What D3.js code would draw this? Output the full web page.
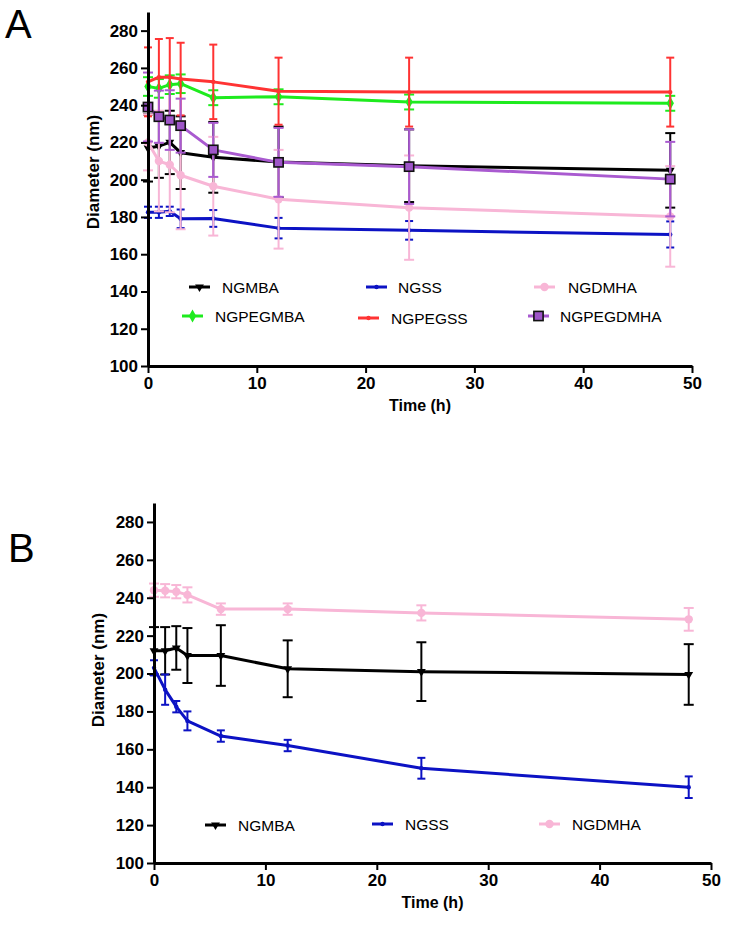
<!DOCTYPE html>
<html><head><meta charset="utf-8">
<script src="https://cdn.jsdelivr.net/npm/d3@7"></script>
<style>
body{margin:0;background:#fff}
svg{display:block}
text{font-family:"Liberation Sans",Arial,Helvetica,sans-serif;fill:#000}
</style>
</head><body>
<svg id="chart" width="729" height="925"></svg>
<script>
// ---------------- data ----------------
const times = [0, 1, 2, 3, 6, 12, 24, 48];
const xTicks = [0, 10, 20, 30, 40, 50];
const yTicks = [100, 120, 140, 160, 180, 200, 220, 240, 260, 280];

// Panel A (mean, SD)
const aNGMBA        = [217, 218, 220, 214.5, 212, 209.5, 207.5, 205];
const aNGMBAErr     = [18, 17, 17, 19.5, 19, 19, 19.5, 20];
const aNGSS         = [182.5, 182.5, 183, 179, 179.2, 174, 172.8, 170.6];
const aNGSSErr      = [3, 3, 2.5, 5, 4.5, 5.5, 5, 7];
const aNGDMHA       = [220, 210, 208, 202.4, 196.5, 189.5, 185, 180.3];
const aNGDMHAErr    = [15, 27, 25.5, 29, 26.5, 26.5, 28, 27];
const aNGPEGMBA     = [250, 249, 251, 251.5, 244, 244.5, 241.7, 241];
const aNGPEGMBAErr  = [5, 5, 5, 5, 4, 4, 4, 4];
const aNGPEGSS      = [252.5, 255, 255, 254, 252.5, 247.5, 247, 247];
const aNGPEGSSErr   = [18.5, 20.5, 21, 19.5, 20, 18, 18.5, 18.5];
const aNGPEGDMHA    = [239, 233.8, 232, 229, 216, 209.3, 207, 200.3];
const aNGPEGDMHAErr = [18.5, 14, 16, 14.5, 14.5, 18.5, 20, 20];

// Panel B (mean, SD)
const bNGMBA     = [212, 212, 213.5, 209.5, 209.5, 202.5, 201, 199.5];
const bNGMBAErr  = [12.5, 12.5, 11.5, 14.5, 16, 15, 15.5, 16];
const bNGSS      = [203, 191.5, 182.5, 175, 167, 162, 150, 140];
const bNGSSErr   = [4, 8, 3, 5, 3, 3, 5.5, 5.7];
const bNGDMHA    = [244, 243.7, 243.2, 241.5, 234, 234, 232, 228.6];
const bNGDMHAErr = [3.5, 3.5, 3.5, 4, 3, 3, 4, 6];

// ---------------- styles ----------------
const styles = {
  NGMBA:     {color: "#000000", marker: "triDown", cap: 5},
  NGSS:      {color: "#0c12c4", marker: "dot",     cap: 4},
  NGDMHA:    {color: "#f8b6d6", marker: "circle",  cap: 5},
  NGPEGMBA:  {color: "#1eeb1e", marker: "diamond", cap: 5},
  NGPEGSS:   {color: "#ff3333", marker: "dot",     cap: 4},
  NGPEGDMHA: {color: "#a95ad0", marker: "square",  cap: 5}
};

const svg = d3.select("#chart");

function drawMarker(g, type, color, cx, cy) {
  if (type === "triDown") {
    g.append("path").attr("d", d3.symbol().type(d3.symbolTriangle).size(34)())
      .attr("transform", `translate(${cx},${cy}) rotate(180)`).attr("fill", color);
  } else if (type === "dot") {
    g.append("circle").attr("cx", cx).attr("cy", cy).attr("r", 2.2).attr("fill", color);
  } else if (type === "circle") {
    g.append("circle").attr("cx", cx).attr("cy", cy).attr("r", 4.2).attr("fill", color);
  } else if (type === "diamond") {
    g.append("path").attr("d", d3.symbol().type(d3.symbolDiamond).size(48)())
      .attr("transform", `translate(${cx},${cy})`).attr("fill", color);
  } else if (type === "square") {
    g.append("rect").attr("x", cx - 4.6).attr("y", cy - 4.6).attr("width", 9.2).attr("height", 9.2)
      .attr("fill", "#9e55c8").attr("stroke", "#111").attr("stroke-width", 1.6);
  }
}

function drawPanel(cfg) {
  const x = d3.scaleLinear().domain([0, 50]).range(cfg.xRange);
  const y = d3.scaleLinear().domain([100, 290]).range(cfg.yRange);
  const g = svg.append("g");

  // series
  cfg.series.forEach(s => {
    const st = styles[s.name];
    const sg = g.append("g");
    // error bars
    times.forEach((t, i) => {
      const cx = x(t), lo = y(s.values[i] - s.errors[i]), hi = y(s.values[i] + s.errors[i]);
      sg.append("line").attr("x1", cx).attr("x2", cx).attr("y1", lo).attr("y2", hi)
        .attr("stroke", st.color).attr("stroke-width", 2);
      [lo, hi].forEach(yy => sg.append("line")
        .attr("x1", cx - st.cap).attr("x2", cx + st.cap).attr("y1", yy).attr("y2", yy)
        .attr("stroke", st.color).attr("stroke-width", 2));
    });
    // line
    const line = d3.line().x((d, i) => x(times[i])).y(d => y(d));
    sg.append("path").attr("d", line(s.values)).attr("fill", "none")
      .attr("stroke", st.color).attr("stroke-width", 3).attr("stroke-linejoin", "round");
    // markers
    s.values.forEach((v, i) => drawMarker(sg, st.marker, st.color, x(times[i]), y(v)));
  });

  // axes
  const xAxis = d3.axisBottom(x).tickValues(xTicks).tickSize(7).tickSizeOuter(0).tickPadding(4);
  const yAxis = d3.axisLeft(y).tickValues(yTicks).tickSize(7).tickSizeOuter(0).tickPadding(3);
  const gx = g.append("g").attr("transform", `translate(0,${cfg.yRange[0]})`).call(xAxis);
  const gy = g.append("g").attr("transform", `translate(${cfg.xRange[0]},0)`).call(yAxis);
  [gx, gy].forEach(a => {
    a.select(".domain").attr("stroke", "#000").attr("stroke-width", 3);
    a.selectAll(".tick line").attr("stroke", "#000").attr("stroke-width", 2);
    a.selectAll(".tick text").attr("font-size", 17).attr("font-weight", "bold")
      .attr("font-family", '"Liberation Sans",Arial,sans-serif').attr("fill", "#000");
  });

  // titles
  g.append("text").attr("x", (cfg.xRange[0] + cfg.xRange[1]) / 2).attr("y", cfg.yRange[0] + 45)
    .attr("text-anchor", "middle").attr("font-size", 16).attr("font-weight", "bold").text("Time (h)");
  g.append("text").attr("transform", `translate(${cfg.yTitleX},${cfg.yTitleY}) rotate(-90)`)
    .attr("text-anchor", "middle").attr("dominant-baseline", "central")
    .attr("font-size", 17).attr("font-weight", "bold").text("Diameter (nm)");

  // panel letter
  g.append("text").attr("x", cfg.letterX).attr("y", cfg.letterY)
    .attr("font-size", 40).text(cfg.letter);

  // legend
  cfg.legend.forEach(l => {
    const st = styles[l.name];
    const lg = g.append("g");
    lg.append("line").attr("x1", l.sx).attr("x2", l.sx + 21).attr("y1", l.y).attr("y2", l.y)
      .attr("stroke", st.color).attr("stroke-width", 3);
    drawMarker(lg, st.marker, st.color, l.sx + 10.5, l.y);
    lg.append("text").attr("x", l.tx).attr("y", l.y).attr("dominant-baseline", "central")
      .attr("font-size", 15.5).text(l.name);
  });
}

drawPanel({
  letter: "A", letterX: 5, letterY: 38,
  xRange: [148, 692], yRange: [366, 12],
  yTitleX: 93, yTitleY: 172,
  series: [
    {name: "NGMBA", values: aNGMBA, errors: aNGMBAErr},
    {name: "NGSS", values: aNGSS, errors: aNGSSErr},
    {name: "NGDMHA", values: aNGDMHA, errors: aNGDMHAErr},
    {name: "NGPEGMBA", values: aNGPEGMBA, errors: aNGPEGMBAErr},
    {name: "NGPEGSS", values: aNGPEGSS, errors: aNGPEGSSErr},
    {name: "NGPEGDMHA", values: aNGPEGDMHA, errors: aNGPEGDMHAErr}
  ],
  legend: [
    {name: "NGMBA", sx: 189, tx: 222, y: 287},
    {name: "NGSS", sx: 366, tx: 398, y: 287},
    {name: "NGDMHA", sx: 534, tx: 568, y: 287},
    {name: "NGPEGMBA", sx: 182, tx: 215, y: 316},
    {name: "NGPEGSS", sx: 358, tx: 391, y: 318},
    {name: "NGPEGDMHA", sx: 528, tx: 560, y: 316}
  ]
});

drawPanel({
  letter: "B", letterX: 8, letterY: 562,
  xRange: [154, 711], yRange: [863, 503],
  yTitleX: 98, yTitleY: 670,
  series: [
    {name: "NGMBA", values: bNGMBA, errors: bNGMBAErr},
    {name: "NGSS", values: bNGSS, errors: bNGSSErr},
    {name: "NGDMHA", values: bNGDMHA, errors: bNGDMHAErr}
  ],
  legend: [
    {name: "NGMBA", sx: 205, tx: 238, y: 825},
    {name: "NGSS", sx: 372, tx: 405, y: 824},
    {name: "NGDMHA", sx: 539, tx: 572, y: 824}
  ]
});
</script>
</body></html>
